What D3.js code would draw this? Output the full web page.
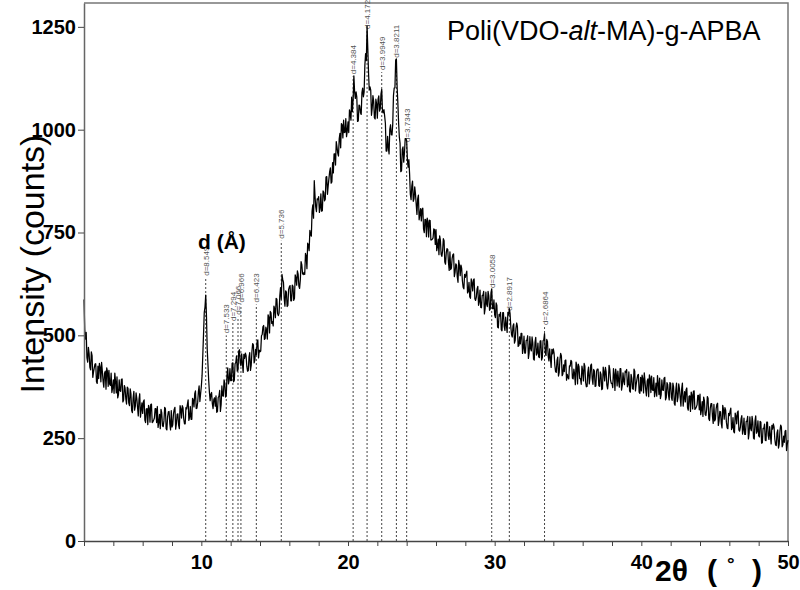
<!DOCTYPE html>
<html>
<head>
<meta charset="utf-8">
<script src="https://cdn.jsdelivr.net/npm/d3@7"></script>
<style>
  body { margin: 0; background: #fff; }
  text { font-family: "Liberation Sans", Arial, sans-serif; }
</style>
</head>
<body>
<div class="canvas"></div>
<script>
// 2theta scan: first angle and step, intensity (counts)
var thetaStart = 2, thetaStep = 0.05;
var intensity = [
  587,515, 491,507, 446,435, 471,455, 422,416, 460,451, 398,411, 421,430, 431,387, 383,425,   // 2
  395,432, 423,387, 434,413, 389,374, 408,413, 369,421, 412,376, 415,381, 378,408, 361,372,   // 3
  392,359, 408,389, 360,399, 348,356, 392,366, 364,393, 394,338, 343,378, 372,346, 333,374,   // 4
  371,336, 329,370, 358,317, 312,348, 364,318, 328,360, 347,325, 304,345, 358,301, 319,336,   // 5
  310,339, 343,294, 288,321, 322,283, 330,323, 289,332, 333,288, 290,294, 299,322, 322,288,   // 6
  327,276, 289,308, 273,320, 312,280, 278,292, 325,322, 273,270, 302,314, 315,285, 270,317,   // 7
  277,282, 309,320, 325,272, 285,308, 309,282, 273,329, 321,299, 329,324, 297,285, 285,324,   // 8
  321,332, 343,293, 301,327, 296,296, 347,342, 326,358, 365,322, 323,337, 363,377, 339,358,   // 9
  376,402, 452,503, 556,569, 598,547, 468,431, 392,362, 341,357, 361,334, 322,344, 348,328,   // 10
  353,313, 315,349, 352,366, 315,332, 377,353, 352,392, 384,350, 354,403, 421,382, 391,419,   // 11
  390,390, 432,433, 387,391, 431,434, 450,413, 416,462, 465,433, 426,455, 433,410, 454,444,   // 12
  457,451, 425,413, 414,447, 458,415, 427,461, 480,477, 433,440, 466,453, 484,489, 445,464,   // 13
  460,462, 499,502, 521,524, 490,492, 520,513, 491,550, 544,506, 558,555, 529,533, 523,571,   // 14
  564,543, 590,588, 553,548, 554,596, 616,588, 648,636, 629,589, 571,608, 605,570, 573,611,   // 15
  618,621, 584,584, 622,619, 585,590, 647,640, 622,657, 649,620, 614,635, 679,672, 650,648,   // 16
  653,648, 699,693, 662,724, 719,706, 755,745, 741,802, 817,785, 876,840, 812,801, 832,830,   // 17
  837,799, 809,844, 802,803, 851,848, 827,831, 885,886, 843,864, 881,898, 907,870, 873,920,   // 18
  895,941, 941,914, 971,958, 943,936, 978,991, 956,1015, 1012,980, 1023,993, 994,1027, 983,997,           // 19
  1019,993, 1048,1041, 1023,1079, 1044,1074, 1131,1092, 1076,1092, 1079,1020, 1021,1060, 1058,1041, 1037,1090, // 20
  1101,1080, 1092,1157, 1185,1168, 1252,1198, 1138,1096, 1104,1096, 1035,1052, 1083,1069, 1029,1026, 1074,1063, // 21
  1028,1074, 1082,1045, 1051,1087, 1098,1044, 1041,1049, 1033,1015, 948,948, 984,956, 941,1001, 1012,988,      // 22
  987,1013, 1083,1101, 1102,1169, 1172,1104, 1064,1017, 982,967, 898,900, 952,958, 921,944, 978,978,          // 23
  973,927, 909,927, 892,843, 830,863, 875,826, 832,861, 844,819, 794,832, 841,781, 795,808,   // 24
  778,807, 809,759, 750,782, 781,740, 785,776, 739,780, 779,732, 732,734, 737,759, 757,721,   // 25
  757,706, 716,734, 696,742, 731,697, 692,705, 735,730, 678,673, 701,711, 709,677, 658,703,   // 26
  660,663, 687,696, 698,643, 653,674, 671,642, 629,682, 670,645, 671,663, 632,617, 613,648,   // 27
  641,649, 656,603, 607,629, 594,590, 637,628, 608,635, 637,589, 585,593, 613,619, 573,582,   // 28
  610,568, 567,597, 597,607, 552,565, 605,576, 570,607, 596,561, 564,604, 613,565, 565,586,   // 29
  550,543, 579,573, 520,518, 551,547, 556,514, 511,555, 555,521, 512,544, 525,507, 556,549,   // 30
  565,553, 521,502, 496,523, 528,481, 488,517, 530,522, 473,475, 496,479, 505,505, 456,469,   // 31
  498,457, 457,488, 488,499, 444,457, 497,468, 462,496, 482,442, 440,483, 495,452, 457,481,   // 32
  448,446, 486,487, 440,446, 487,489, 504,458, 451,490, 485,449, 438,467, 445,422, 466,455,   // 33
  467,457, 428,412, 410,439, 447,401, 410,441, 456,450, 402,406, 428,412, 439,440, 391,405,   // 34
  397,394, 426,425, 439,436, 396,394, 418,406, 380,435, 425,382, 430,424, 395,395, 381,425,   // 35
  414,389, 432,425, 386,375, 376,410, 423,382, 397,427, 430,394, 381,417, 413,376, 377,413,   // 36
  418,418, 378,376, 411,405, 368,370, 423,411, 389,422, 411,379, 370,387, 427,417, 391,383,   // 37
  383,373, 419,405, 366,418, 403,377, 413,390, 374,419, 419,367, 378,409, 388,380, 413,410,   // 38
  417,375, 381,411, 365,362, 405,396, 370,369, 418,413, 365,381, 393,403, 405,362, 359,398,   // 39
  365,403, 395,360, 409,389, 367,353, 389,394, 351,404, 396,361, 401,368, 366,397, 351,363,   // 40
  384,352, 402,384, 356,396, 346,355, 392,367, 366,396, 398,343, 349,385, 380,355, 343,385,   // 41
  383,349, 342,384, 374,334, 330,367, 384,339, 349,382, 370,349, 328,370, 384,328, 346,363,   // 42
  338,368, 372,324, 318,352, 353,315, 362,355, 321,364, 365,320, 322,326, 331,354, 354,319,   // 43
  357,307, 319,339, 303,350, 341,308, 305,319, 351,347, 297,293, 323,334, 334,303, 286,332,   // 44
  292,296, 321,332, 335,281, 292,315, 314,286, 275,330, 320,296, 324,318, 289,275, 273,310,   // 45
  305,315, 323,271, 276,300, 266,263, 311,304, 285,313, 316,270, 267,276, 297,305, 260,270,   // 46
  299,259, 259,291, 291,303, 248,262, 302,274, 268,303, 289,250, 248,292, 304,262, 267,292,   // 47
  256,253, 291,289, 238,239, 274,273, 284,245, 244,289, 289,256, 247,278, 257,236, 281,272,   // 48
  285,277, 248,234, 232,263, 270,226, 235,267, 282,277, 229,234, 255,240, 267,269, 220,235,   // 49
  245
];

// marked reflections
var peakTheta = [10.3, 11.7, 12.15, 12.5, 12.7, 13.75, 15.45, 20.35, 21.3, 22.3, 23.3, 24.0, 29.8, 31.0, 33.4];
var peakLabel = ["d=8.549", "d=7.533", "d=7.294", "d=7.066", "d=6.966", "d=6.423", "d=5.736",
                 "d=4.384", "d=4.172", "d=3.9949", "d=3.8211", "d=3.7343", "d=3.0058", "d=2.8917", "d=2.6864"];
var peakTop = [640, 500, 530, 545, 575, 575, 730, 1130, 1240, 1140, 1170, 965, 610, 555, 520];

var xTicks = [2, 4, 6, 8, 10, 12, 14, 16, 18, 20, 22, 24, 26, 28, 30, 32, 34, 36, 38, 40, 42, 44, 46, 48, 50];
var xTickLabels = [10, 20, 30, 40, 50];
var yTicks = [0, 250, 500, 750, 1000, 1250];

var W = 800, H = 590;
var margin = {left: 84, right: 788, top: 3, bottom: 541};

var svg = d3.select(".canvas")
    .append("svg")
    .attr("width", W)
    .attr("height", H)
    .style("display", "block");

var x = d3.scaleLinear().domain([2, 50]).range([margin.left, margin.right]);
var y = d3.scaleLinear().domain([0, 1308]).range([margin.bottom, margin.top]);

// frame (top + right)
svg.append("path")
    .attr("d", `M${margin.left},${margin.top}H${margin.right}V${margin.bottom}`)
    .attr("fill", "none")
    .attr("stroke", "#777")
    .attr("stroke-width", 1.5);

// dashed peak markers
svg.selectAll("line.peak")
  .data(peakTheta)
  .enter()
  .append("line")
    .attr("class", "peak")
    .attr("x1", d => x(d))
    .attr("x2", d => x(d))
    .attr("y1", y(0))
    .attr("y2", (d, i) => y(peakTop[i]))
    .attr("stroke", "#444")
    .attr("stroke-width", 1)
    .attr("stroke-dasharray", "2,2");

svg.selectAll("text.peak")
  .data(peakTheta)
  .enter()
  .append("text")
    .attr("class", "peak")
    .attr("transform", (d, i) => `translate(${x(d) + 3},${y(peakTop[i]) - 2}) rotate(-90)`)
    .style("font-size", "8px")
    .attr("fill", "#555")
    .text((d, i) => peakLabel[i]);

// diffractogram
var line = d3.line()
    .x((d, i) => x(thetaStart + i * thetaStep))
    .y(d => y(d));

svg.append("path")
    .datum(intensity)
    .attr("d", line)
    .attr("fill", "none")
    .attr("stroke", "#000")
    .attr("stroke-width", 1.25)
    .attr("stroke-linejoin", "round");

// Y axis
var yAxis = svg.append("g")
    .attr("transform", `translate(${margin.left},0)`)
    .call(d3.axisLeft(y).tickValues(yTicks).tickFormat(d3.format("d"))
        .tickSize(6).tickPadding(2).tickSizeOuter(0));
yAxis.select(".domain").attr("stroke", "#666").attr("stroke-width", 1.5);
yAxis.selectAll(".tick line").attr("stroke", "#444");
yAxis.selectAll("text")
    .style("font-family", "'Liberation Sans', Arial, sans-serif")
    .style("font-size", "20px")
    .style("font-weight", "bold")
    .attr("fill", "#000");

// X axis
var xAxis = svg.append("g")
    .attr("transform", `translate(0,${margin.bottom})`)
    .call(d3.axisBottom(x).tickValues(xTicks).tickSize(5).tickSizeOuter(0)
        .tickFormat(d => xTickLabels.indexOf(d) >= 0 ? d : ""));
xAxis.select(".domain").attr("stroke", "#444").attr("stroke-width", 1.5);
xAxis.selectAll(".tick line").attr("stroke", "#444");
xAxis.selectAll("text")
    .attr("dy", "1.0em")
    .style("font-family", "'Liberation Sans Narrow', 'Liberation Sans', Arial, sans-serif")
    .style("font-size", "20px")
    .style("font-weight", "bold")
    .attr("fill", "#000");

// axis titles
svg.append("text")
    .attr("transform", `translate(44,${(margin.top + margin.bottom) / 2 - 8}) rotate(-90)`)
    .attr("text-anchor", "middle")
    .style("font-size", "34px")
    .attr("fill", "#000")
    .text("Intensity (counts)");

var xt = svg.append("text")
    .attr("y", 581)
    .style("font-family", "'Liberation Sans Narrow', 'Liberation Sans', Arial, sans-serif")
    .style("font-weight", "bold")
    .style("font-size", "30px")
    .attr("fill", "#000");
xt.append("tspan").attr("x", 655).text("2θ");
xt.append("tspan").attr("x", 707).text("(");
xt.append("tspan").attr("x", 727).attr("dy", -11).style("font-size", "19px").text("°");
xt.append("tspan").attr("x", 752).attr("dy", 11).text(")");

// d (Å) label
svg.append("text")
    .attr("x", 198)
    .attr("y", 249)
    .style("font-size", "21px")
    .style("font-weight", "bold")
    .attr("fill", "#000")
    .text("d (Å)");

// sample name
var title = svg.append("text")
    .attr("x", 447)
    .attr("y", 40)
    .style("font-size", "27px")
    .attr("fill", "#000");
title.append("tspan").text("Poli(VDO-");
title.append("tspan").style("font-style", "italic").text("alt");
title.append("tspan").text("-MA)-g-APBA");
</script>
</body>
</html>
